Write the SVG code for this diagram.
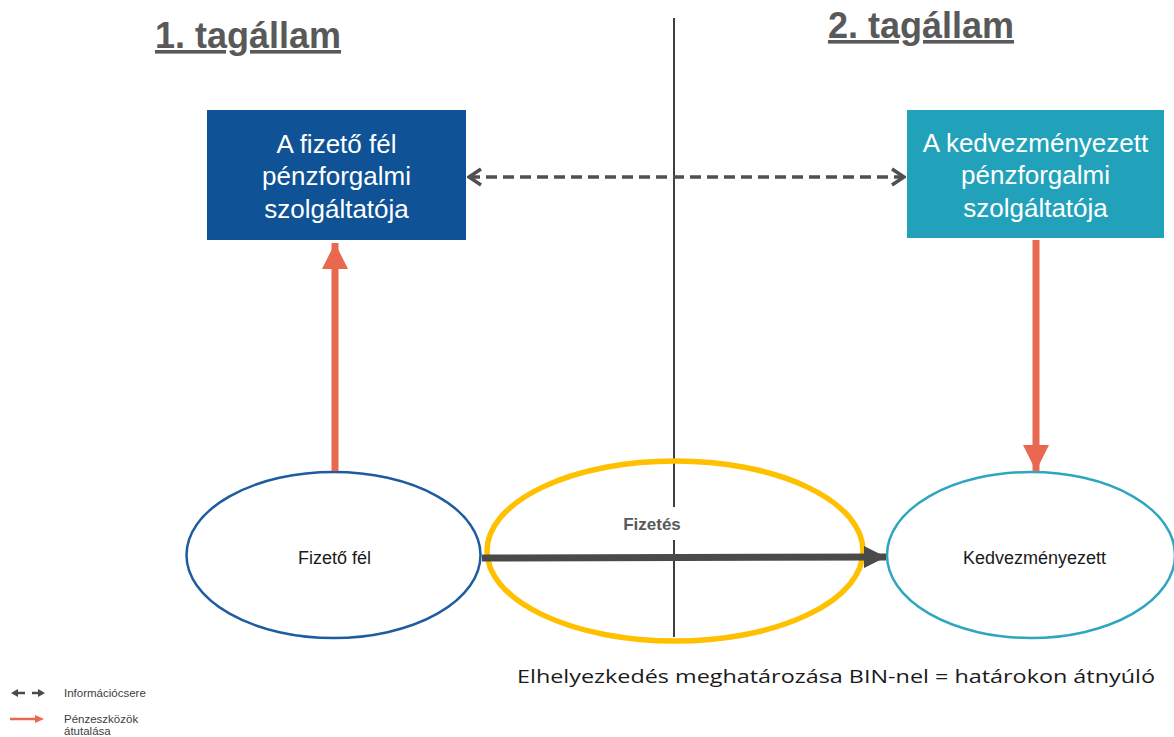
<svg xmlns="http://www.w3.org/2000/svg" width="1174" height="737" viewBox="0 0 1174 737">
  <style>
    .title { font-family: "Liberation Sans", Arial, sans-serif; font-size: 36px; font-weight: bold; fill: #595959; text-anchor: middle; text-decoration: underline; }
    .boxtxt { font-family: "Liberation Sans", Arial, sans-serif; font-size: 26px; fill: #ffffff; text-anchor: middle; }
    .ovtxt { font-family: "Liberation Sans", Arial, sans-serif; font-size: 18px; fill: #1a1a1a; text-anchor: middle; }
    .legend { font-family: "Liberation Sans", Arial, sans-serif; font-size: 11.5px; fill: #404040; }
    .money { stroke: #E8694F; stroke-width: 7; fill: none; }
  </style>
  <defs>
    <marker id="orangeHead" markerUnits="userSpaceOnUse" markerWidth="26" markerHeight="26" viewBox="0 0 26 26" refX="26" refY="13" orient="auto">
      <path d="M0,0 L26,13 L0,26 Z" fill="#E8694F"/>
    </marker>
    <marker id="darkHead" markerUnits="userSpaceOnUse" markerWidth="22" markerHeight="22" viewBox="0 0 22 22" refX="22" refY="11" orient="auto">
      <path d="M0,0 L22,11 L0,22 Z" fill="#4a4a4a"/>
    </marker>
    <marker id="chevron" markerUnits="userSpaceOnUse" markerWidth="16" markerHeight="20" viewBox="0 0 16 20" refX="14" refY="10" orient="auto-start-reverse">
      <path d="M2,2 L14,10 L2,18" fill="none" stroke="#505050" stroke-width="3.5" stroke-linejoin="miter"/>
    </marker>
  </defs>

  <rect width="1174" height="737" fill="#ffffff"/>

  <!-- country headings -->
  <text class="title" x="248" y="48">1. tagállam</text>
  <text class="title" x="921" y="38">2. tagállam</text>

  <!-- border line between the two member states -->
  <g id="border">
    <line x1="674" y1="18" x2="674" y2="507" stroke="#404040" stroke-width="2"/>
    <line x1="674" y1="540" x2="674" y2="637" stroke="#404040" stroke-width="2"/>
  </g>

  <!-- payment ellipse -->
  <g id="payment">
    <ellipse cx="675" cy="551" rx="188" ry="90" fill="none" stroke="#FFC000" stroke-width="5.5"/>
    <text x="652" y="530" font-family="'Liberation Sans', Arial, sans-serif" font-size="17" font-weight="bold" fill="#595959" text-anchor="middle">Fizetés</text>
  </g>

  <!-- payer PSP -->
  <g id="payer-psp">
    <rect x="207" y="110" width="259" height="130" fill="#0F5296"/>
    <text class="boxtxt" x="336.5" y="153">A fizető fél</text>
    <text class="boxtxt" x="336.5" y="185">pénzforgalmi</text>
    <text class="boxtxt" x="336.5" y="218">szolgáltatója</text>
  </g>

  <!-- payee PSP -->
  <g id="payee-psp">
    <rect x="907" y="110" width="257" height="128" fill="#22A2BA"/>
    <text class="boxtxt" x="1035.5" y="152">A kedvezményezett</text>
    <text class="boxtxt" x="1035.5" y="184">pénzforgalmi</text>
    <text class="boxtxt" x="1035.5" y="217">szolgáltatója</text>
  </g>

  <!-- payer -->
  <g id="payer">
    <ellipse cx="333.5" cy="555" rx="147" ry="83" fill="none" stroke="#1F5C9E" stroke-width="2.5"/>
    <text class="ovtxt" x="334.5" y="564">Fizető fél</text>
  </g>

  <!-- payee -->
  <g id="payee">
    <ellipse cx="1031" cy="555" rx="144" ry="83" fill="none" stroke="#2EA6C0" stroke-width="2.5"/>
    <text class="ovtxt" x="1034.5" y="564">Kedvezményezett</text>
  </g>

  <!-- connectors -->
  <g id="connectors">
    <line x1="469" y1="177" x2="904" y2="177" stroke="#505050" stroke-width="3.5" stroke-dasharray="11,6" marker-start="url(#chevron)" marker-end="url(#chevron)"/>
    <line class="money" x1="335" y1="471" x2="335" y2="243" marker-end="url(#orangeHead)"/>
    <line class="money" x1="1036" y1="240" x2="1036" y2="471" marker-end="url(#orangeHead)"/>
    <line x1="482" y1="558" x2="886" y2="557" stroke="#4a4a4a" stroke-width="7" marker-end="url(#darkHead)"/>
  </g>

  <!-- location note -->
  <text x="517" y="683" font-family="'Open Sans', 'Liberation Sans', sans-serif" font-size="19" fill="#1a1a1a" textLength="638" lengthAdjust="spacingAndGlyphs">Elhelyezkedés meghatározása BIN-nel = határokon átnyúló</text>

  <!-- legend -->
  <g id="legend">
    <line x1="14" y1="693" x2="25" y2="693" stroke="#4a4a4a" stroke-width="2.5"/>
    <path d="M11,693 L18,689 L18,697 Z" fill="#4a4a4a"/>
    <line x1="32" y1="693" x2="42" y2="693" stroke="#4a4a4a" stroke-width="2.5"/>
    <path d="M45,693 L38,689 L38,697 Z" fill="#4a4a4a"/>
    <text class="legend" x="64" y="697">Információcsere</text>
    <line x1="10" y1="719" x2="36" y2="719" stroke="#E8694F" stroke-width="2.5"/>
    <path d="M44,719 L35,715 L35,723 Z" fill="#E8694F"/>
    <text class="legend" x="64" y="723">Pénzeszközök</text>
    <text class="legend" x="64" y="735">átutalása</text>
  </g>
</svg>
